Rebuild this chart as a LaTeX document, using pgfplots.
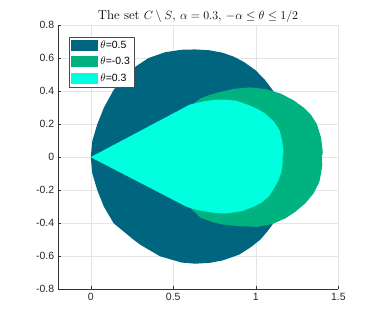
\documentclass[border=0pt]{standalone}
\usepackage{pgfplots}
\pgfplotsset{compat=1.18}
\usepackage{fontspec}
\newfontfamily\arial{Liberation Sans}
\definecolor{cA}{RGB}{0,102,128}
\definecolor{cB}{RGB}{0,178,128}
\definecolor{cC}{RGB}{0,255,222}
\begin{document}
\begin{tikzpicture}
\begin{axis}[
  width=280.6bp, height=264.3bp, scale only axis,
  xmin=-0.2, xmax=1.5, ymin=-0.8, ymax=0.8,
  xtick={0,0.5,1,1.5}, xticklabels={0,0.5,1,1.5},
  ytick={-0.8,-0.6,-0.4,-0.2,0,0.2,0.4,0.6,0.8},
  yticklabels={-0.8,-0.6,-0.4,-0.2,0,0.2,0.4,0.6,0.8},
  ticklabel style={font=\arial\fontsize{10.5}{12}\selectfont, text=black!85},
  axis x line*=bottom, axis y line*=left,
  axis line style={draw=black!80, -},
  tick align=inside, major tick length=3bp,
  tick style={black!80},
  grid=major, grid style={draw=black!10, line width=0.4pt},
  title={The set $C \setminus S$, $\alpha=0.3$, $-\alpha \le \theta \le 1/2$},
  title style={font=\fontsize{13}{15}\selectfont, yshift=-6.5bp},
  legend style={at={(0.041,0.956)}, anchor=north west,
    font=\arial\fontsize{10.5}{12}\selectfont, draw=black!70,
    inner sep=2bp, row sep=3.5bp},
  legend cell align=left,
  legend image code/.code={\fill[#1] (0bp,-5.5bp) rectangle (27bp,5.5bp);},
]
% theta = 0.5
\addplot[fill=cA, draw=none] coordinates {
  (0,0) (0.01,0.1) (0.04,0.2) (0.08,0.3) (0.135,0.4) (0.2,0.5) (0.35,0.6)
  (0.45,0.635) (0.55,0.65) (0.633,0.652) (0.72,0.647) (0.80,0.632)
  (0.87,0.607) (0.93,0.575) (1.0,0.525) (1.057,0.466) (1.107,0.40)
  (1.15,0.32) (1.18,0.2) (1.195,0.1) (1.2,0) (1.195,-0.1) (1.18,-0.2)
  (1.15,-0.32) (1.107,-0.40) (1.07,-0.45) (1.027,-0.50) (0.97,-0.545)
  (0.90,-0.59) (0.80,-0.625) (0.72,-0.64) (0.633,-0.645) (0.55,-0.638)
  (0.42,-0.6) (0.30,-0.53) (0.26,-0.5) (0.139,-0.4) (0.08,-0.3)
  (0.04,-0.2) (0.01,-0.1)
} -- cycle;
\addlegendentry{$\theta$=0.5}
% theta = -0.3
\addplot[fill=cB, draw=none] coordinates {
  (0,0) (0.55,0.27) (0.664,0.355) (0.72,0.377) (0.785,0.395) (0.87,0.414)
  (0.966,0.422) (1.06,0.412) (1.15,0.385) (1.228,0.345) (1.29,0.30)
  (1.335,0.255) (1.37,0.20) (1.395,0.12) (1.406,0.03) (1.40,0)
  (1.403,-0.05) (1.395,-0.10) (1.385,-0.15) (1.35,-0.22) (1.30,-0.28)
  (1.24,-0.33) (1.18,-0.37) (1.10,-0.405) (1.007,-0.422) (0.90,-0.418)
  (0.80,-0.408) (0.744,-0.395) (0.664,-0.365) (0.55,-0.26)
} -- cycle;
\addlegendentry{$\theta$=-0.3}
% theta = 0.3
\addplot[fill=cC, draw=none] coordinates {
  (0,0) (0.60,0.318) (0.68,0.337) (0.75,0.347) (0.805,0.349) (0.88,0.342)
  (0.95,0.318) (1.01,0.292) (1.057,0.264) (1.11,0.215) (1.144,0.163)
  (1.16,0.10) (1.168,0.03) (1.162,0.0) (1.163,-0.04) (1.155,-0.09)
  (1.138,-0.139) (1.11,-0.19) (1.077,-0.24) (1.035,-0.275) (0.986,-0.30)
  (0.92,-0.326) (0.825,-0.341) (0.74,-0.336) (0.644,-0.32) (0.58,-0.30)
} -- cycle;
\addlegendentry{$\theta$=0.3}
\end{axis}
\path (-57.7bp,-34.7bp) rectangle (324.3bp,289.3bp);
\end{tikzpicture}
\end{document}
